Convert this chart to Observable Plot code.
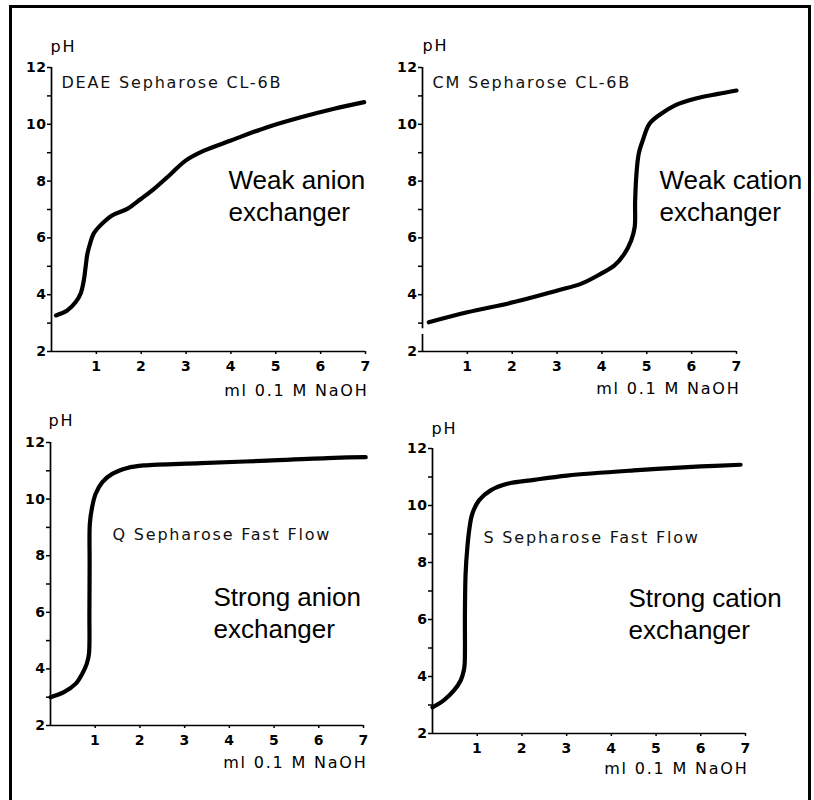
<!DOCTYPE html>
<html><head><meta charset="utf-8">
<script src="https://cdn.jsdelivr.net/npm/d3@7"></script>
<script src="https://cdn.jsdelivr.net/npm/@observablehq/plot@0.6"></script>
<style>
body{margin:0;background:#fff;}
#page{position:relative;width:814px;height:800px;overflow:hidden;background:#fff;}
#border{position:absolute;left:9px;top:5px;width:802px;height:830px;border:3px solid #000;box-sizing:border-box;}
#page svg{position:absolute;left:0;top:0;}
#page svg text{letter-spacing:1.8px;}
#page svg g[aria-label$="tick label"]{font-size:14px;font-weight:bold;}
#page svg g[aria-label$="tick label"] text{letter-spacing:0.5px;}
#page svg g[font-family="Liberation Sans"] text{letter-spacing:0;}
</style></head>
<body>
<div id="page"><div id="border"></div></div>
<script>
// ---- data ----
const xTicks = [1, 2, 3, 4, 5, 6, 7];
const yTicks = [2, 3, 4, 5, 6, 7, 8, 9, 10, 11, 12];
const xTitle = "ml 0.1 M NaOH";
const yTitle = "pH";

const names = ["DEAE Sepharose CL-6B", "CM Sepharose CL-6B", "Q Sepharose Fast Flow", "S Sepharose Fast Flow"];
const kinds = ["Weak anion\nexchanger", "Weak cation\nexchanger", "Strong anion\nexchanger", "Strong cation\nexchanger"];

const deaeX = [0.1, 0.35, 0.54, 0.65, 0.72, 0.76, 0.8, 0.86, 0.94, 1.09, 1.35, 1.69, 1.99, 2.28, 2.66, 2.99, 3.4, 4.0, 4.81, 5.56, 6.3, 6.97];
const deaeY = [3.27, 3.44, 3.74, 4.04, 4.5, 4.97, 5.44, 5.8, 6.15, 6.44, 6.79, 7.02, 7.37, 7.72, 8.25, 8.72, 9.07, 9.43, 9.9, 10.25, 10.55, 10.78];

const cmX = [0.14, 1.0, 2.04, 3.01, 3.53, 3.98, 4.28, 4.5, 4.65, 4.73, 4.74, 4.77, 4.82, 4.91, 5.06, 5.32, 5.62, 6.07, 6.59, 7.0];
const cmY = [3.03, 3.38, 3.74, 4.15, 4.38, 4.74, 5.03, 5.44, 5.9, 6.38, 7.3, 8.26, 8.96, 9.43, 10.02, 10.37, 10.66, 10.9, 11.07, 11.19];

const qX = [0.0, 0.3, 0.56, 0.71, 0.81, 0.86, 0.87, 0.875, 0.88, 0.93, 1.01, 1.16, 1.38, 1.72, 2.09, 3.36, 4.85, 6.34, 7.05];
const qY = [3.0, 3.18, 3.47, 3.83, 4.18, 4.53, 5.95, 7.71, 9.13, 9.71, 10.19, 10.6, 10.89, 11.1, 11.19, 11.27, 11.36, 11.46, 11.48];

const sX = [0.0, 0.25, 0.48, 0.63, 0.7, 0.72, 0.725, 0.74, 0.78, 0.83, 0.89, 1.04, 1.3, 1.67, 2.27, 3.01, 4.5, 6.0, 6.89];
const sY = [2.92, 3.16, 3.51, 3.86, 4.21, 4.45, 6.2, 7.6, 8.54, 9.24, 9.71, 10.18, 10.53, 10.76, 10.9, 11.05, 11.23, 11.37, 11.43];

// ---- layout (pixels) ----
const layout = [
  {frame: [51, 365, 67, 351], name: [61, 87], kind: [228, 220], ph: [50, 51], xt: [368, 395], ySegs: [[2, 12]]},
  {frame: [422, 736, 67, 351], name: [432, 87], kind: [659, 220], ph: [422, 50], xt: [740, 393], ySegs: [[2, 2.6], [2.8, 12]]},
  {frame: [50, 363, 442, 725], name: [112, 539], kind: [213, 637], ph: [48, 425], xt: [367, 767], ySegs: [[2, 12]]},
  {frame: [432, 745, 448, 733], name: [483, 542], kind: [628, 638], ph: [431, 433], xt: [748, 773], ySegs: [[2, 12]]}
];
const series = [[deaeX, deaeY], [cmX, cmY], [qX, qY], [sX, sY]];

function panel(i) {
  const L = layout[i];
  const [xs, ys] = series[i];
  const ml = L.frame[0], mr = 814 - L.frame[1], mt = L.frame[2], mb = 800 - L.frame[3];
  const at = (p) => ({frameAnchor: "top-left", dx: p[0] - ml, dy: p[1] - mt});
  return Plot.plot({
    width: 814, height: 800,
    marginLeft: ml, marginRight: mr, marginTop: mt, marginBottom: mb,
    style: {background: "transparent", fontFamily: "DejaVu Sans", color: "#000", overflow: "visible"},
    x: {domain: [0, 7]},
    y: {domain: [2, 12]},
    marks: [
      Plot.axisX({ticks: xTicks, tickFormat: d => String(d), tickSize: 3, tickPadding: 7, fontSize: 14, label: null, strokeWidth: 1.5}),
      Plot.axisY({ticks: yTicks, tickFormat: d => d % 2 === 0 ? String(d) : "", tickSize: 4, tickPadding: 1, fontSize: 14, label: null, strokeWidth: 1.5}),
      Plot.ruleY([2], {x1: 0, x2: 7, strokeWidth: 1.7}),
      Plot.ruleX(L.ySegs.map(s => ({x: 0, y1: s[0], y2: s[1]})), {x: "x", y1: "y1", y2: "y2", strokeWidth: 1.7}),
      Plot.line(ys, {x: xs, y: ys, stroke: "#000", strokeWidth: 4.2, curve: "catmull-rom", strokeLinecap: "round", strokeLinejoin: "round"}),
      Plot.text([names[i]], {...at(L.name), text: d => d, textAnchor: "start", lineAnchor: "bottom", fontSize: 16, fill: "#111"}),
      Plot.text([yTitle], {...at(L.ph), text: d => d, textAnchor: "start", lineAnchor: "bottom", fontSize: 16}),
      Plot.text([xTitle], {...at(L.xt), text: d => d, textAnchor: "end", lineAnchor: "bottom", fontSize: 16}),
      Plot.text([kinds[i]], {...at(L.kind), text: d => d, textAnchor: "start", lineAnchor: "bottom", fontSize: 26, fontFamily: "Liberation Sans", lineHeight: 1.2})
    ]
  });
}
const page = document.getElementById("page");
for (let i = 0; i < 4; i++) page.appendChild(panel(i));
</script>
</body></html>
